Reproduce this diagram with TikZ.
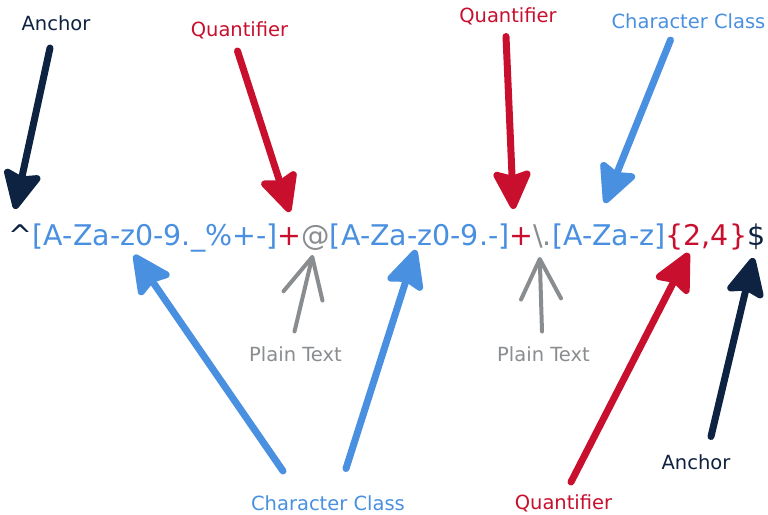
\documentclass[tikz,border=0pt]{standalone}
\usepackage{fontspec}
\setmainfont{DejaVu Sans}
\usetikzlibrary{arrows.meta,positioning}
\definecolor{AnchorNavy}{HTML}{0E2341}
\definecolor{QuantRed}{HTML}{C8102E}
\definecolor{ClassBlue}{HTML}{4A90E0}
\definecolor{PlainGray}{HTML}{8A8D8F}

\begin{document}
\begin{tikzpicture}[x=1pt,y=-1pt,
    part/.style={inner sep=0,outer sep=0,text height=22pt,text depth=7pt,
                 font=\fontsize{28.5}{30}\selectfont},
    lbl/.style={inner sep=0,outer sep=0,anchor=base,font=\fontsize{19.5}{22}\selectfont},
    arr/.style={-{Stealth[length=44pt,width=42pt,inset=6pt,round]},line width=7pt,line cap=round},
    plainarr/.style={-{Straight Barb[length=40pt,width=40pt,round]},line width=4pt,line cap=round,PlainGray}]
    \fill[white] (0,0) rectangle (768,514);
    \useasboundingbox (0,0) rectangle (768,514);

    \node[part,anchor=base west,text=AnchorNavy] (caret) at (9,245) {\textasciicircum};
    \node[part,right=0pt of caret,text=ClassBlue] (cls1) {[A-Za-z0-9.\_\%+-]};
    \node[part,right=0pt of cls1,text=QuantRed] (plus1) {+};
    \node[part,right=0pt of plus1,text=PlainGray] (at) {@};
    \node[part,right=0pt of at,text=ClassBlue] (cls2) {[A-Za-z0-9.-]};
    \node[part,right=0pt of cls2,text=QuantRed] (plus2) {+};
    \node[part,right=0pt of plus2,text=PlainGray] (esc) {\textbackslash.};
    \node[part,right=0pt of esc,text=ClassBlue] (cls3) {[A-Za-z]};
    \node[part,right=0pt of cls3,text=QuantRed] (rep) {\{2,4\}};
    \node[part,right=0pt of rep,text=AnchorNavy] (dollar) {\$};

    \node[lbl,text=AnchorNavy] (anchorA) at (56,30) {Anchor};
    \node[lbl,text=QuantRed] (quantA) at (239.5,36) {Quantifier};
    \node[lbl,text=QuantRed] (quantB) at (508,23) {Quantifier};
    \node[lbl,text=ClassBlue] (classA) at (688.5,28) {Character Class};
    \node[lbl,text=PlainGray] (plainA) at (295.5,361) {Plain Text};
    \node[lbl,text=PlainGray] (plainB) at (543.5,361) {Plain Text};
    \node[lbl,text=ClassBlue] (classB) at (328,510) {Character Class};
    \node[lbl,text=QuantRed] (quantC) at (563.5,509) {Quantifier};
    \node[lbl,text=AnchorNavy] (anchorB) at (696,469) {Anchor};

    \coordinate (tAnchorA) at ([shift={(-6,-14)}]caret.north);
    \coordinate (tQuantA) at ([shift={(0,-11)}]plus1.north);
    \coordinate (tQuantB) at ([shift={(-8,-14)}]plus2.north);
    \coordinate (tClassA) at ([shift={(-4,-20)}]cls3.north);
    \coordinate (tClassB) at ([shift={(-21,3)}]cls1.south);
    \coordinate (tClassC) at ([shift={(-4,-2)}]cls2.south);
    \coordinate (tPlainA) at ([shift={(-3,3)}]at.south);
    \coordinate (tPlainB) at ([shift={(-3,5)}]esc.south);
    \coordinate (tQuantC) at ([shift={(-18,1)}]rep.south);
    \coordinate (tAnchorB) at ([shift={(-3,6)}]dollar.south);

    \draw[arr,AnchorNavy] ([shift={(-6,18)}]anchorA.base) -- (tAnchorA);
    \draw[arr,QuantRed] ([shift={(-2,15)}]quantA.base) -- (tQuantA);
    \draw[arr,QuantRed] ([shift={(-2,13.5)}]quantB.base) -- (tQuantB);
    \draw[arr,ClassBlue] ([shift={(-18,12)}]classA.base) -- (tClassA);
    \draw[arr,ClassBlue] ([shift={(-45,-39)}]classB.base) -- (tClassB);
    \draw[arr,ClassBlue] ([shift={(18,-41.5)}]classB.base) -- (tClassC);
    \draw[plainarr] ([shift={(-1,-29.5)}]plainA.base) -- (tPlainA);
    \draw[plainarr] ([shift={(-1.5,-29.5)}]plainB.base) -- (tPlainB);
    \draw[arr,QuantRed] ([shift={(7.5,-27)}]quantC.base) -- (tQuantC);
    \draw[arr,AnchorNavy] ([shift={(15,-32.5)}]anchorB.base) -- (tAnchorB);
\end{tikzpicture}
\end{document}
